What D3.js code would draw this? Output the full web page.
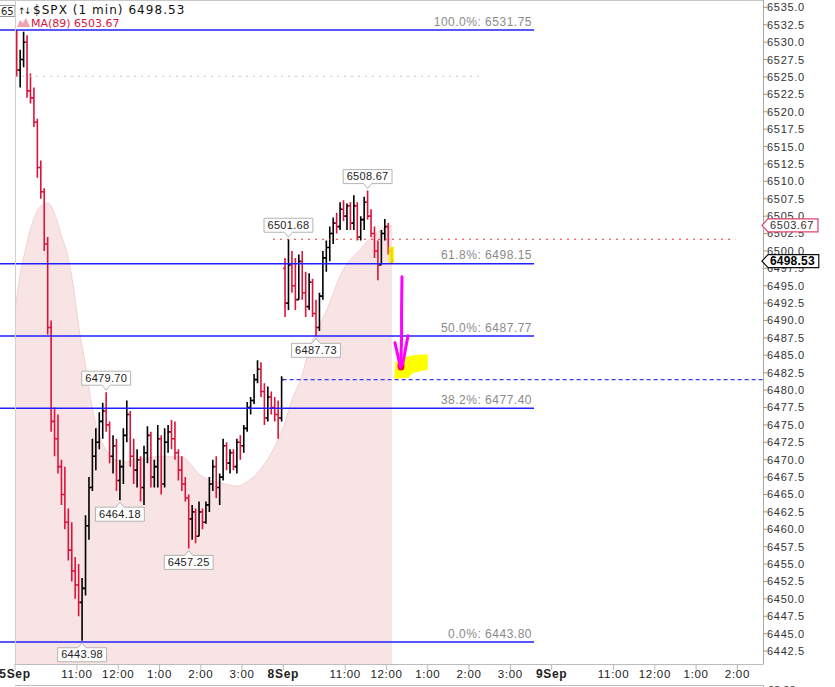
<!DOCTYPE html>
<html>
<head>
<meta charset="utf-8">
<script src="https://cdn.jsdelivr.net/npm/d3@7/dist/d3.min.js"></script>
<style>
html,body{margin:0;padding:0;background:#fff;overflow:hidden;}
svg{display:block;}
</style>
</head>
<body>
<svg id="chart" width="835" height="687"></svg>
<script>
// ---------------- DATA ----------------
// trading-minute offsets of each session open (5Sep, 8Sep) and 5-minute bars per session
const sessionStart = [0, 390];
const barsPerSession = [78, 32];
const barMinutes = 5;

const open = [
 6529.0,6526.0,6527.5,6530.0,6523.0,6522.0,6518.5,6512.0,6508.5,6501.0,
 6489.0,6475.5,6473.0,6469.0,6465.0,6461.0,6457.0,6454.0,6452.0,6449.5,
 6451.5,6460.5,6466.0,6470.5,6472.5,6475.5,6477.0,6475.0,6470.5,6472.0,
 6467.0,6469.0,6473.5,6476.5,6470.5,6468.5,6470.0,6466.0,6471.0,6473.5,
 6467.5,6469.0,6473.0,6466.5,6472.5,6474.0,6473.0,6471.0,6468.5,6466.5,
 6464.5,6461.5,6462.5,6459.0,6462.5,6461.0,6463.5,6466.5,6469.0,6466.0,
 6467.5,6472.0,6469.5,6471.0,6469.0,6472.5,6472.0,6474.5,6477.5,6478.5,
 6481.5,6483.0,6479.8,6476.0,6479.0,6477.5,6476.5,6476.0,
 6497.5,6492.5,6498.0,6495.0,6493.0,6498.5,6494.0,6492.0,6495.5,6491.0,
 6489.0,6493.5,6499.0,6500.5,6502.5,6504.0,6503.5,6506.0,6505.0,6506.5,
 6504.0,6506.5,6502.0,6504.5,6507.0,6505.0,6502.5,6500.0,6498.0,6502.5,
 6503.5,6500.0
];
const high = [
 6531.75,6528.9,6531.5,6531.0,6525.5,6523.5,6519.0,6513.0,6509.0,6502.0,
 6490.0,6477.5,6476.5,6470.0,6469.0,6463.0,6461.0,6456.0,6455.0,6453.0,
 6462.0,6467.5,6473.0,6474.5,6476.8,6478.2,6479.70,6475.5,6473.5,6473.0,
 6470.0,6474.5,6478.5,6477.0,6473.0,6471.5,6470.5,6472.0,6474.8,6474.0,
 6470.0,6475.0,6473.5,6474.5,6475.0,6475.7,6475.5,6471.5,6470.5,6467.5,
 6465.0,6463.5,6463.0,6464.0,6463.0,6464.0,6467.5,6470.0,6470.5,6468.0,
 6473.0,6472.5,6471.5,6471.5,6473.0,6473.5,6475.0,6478.3,6479.0,6482.3,
 6484.3,6484.0,6481.0,6480.5,6479.8,6479.0,6478.5,6482.0,
 6499.0,6501.68,6500.0,6499.0,6499.5,6500.0,6497.0,6496.8,6496.0,6493.0,
 6494.0,6500.0,6501.5,6503.5,6504.8,6505.5,6507.0,6507.3,6506.8,6507.0,
 6508.0,6507.0,6505.0,6507.8,6508.67,6506.0,6503.5,6501.5,6503.0,6504.6,
 6504.0,6500.5
];
const low = [
 6525.0,6523.5,6526.4,6522.0,6521.2,6517.8,6510.5,6507.5,6500.0,6488.0,
 6474.0,6470.5,6468.0,6463.5,6460.0,6455.5,6452.5,6450.0,6447.5,6443.98,
 6450.5,6458.5,6465.5,6468.5,6471.5,6473.0,6474.0,6469.5,6468.0,6465.5,
 6464.18,6466.5,6472.5,6469.0,6466.5,6466.0,6464.0,6463.5,6469.5,6466.0,
 6466.0,6466.0,6465.0,6466.0,6471.0,6471.5,6470.0,6467.0,6465.5,6464.0,
 6457.25,6458.5,6458.0,6459.0,6460.0,6460.8,6462.5,6465.5,6464.5,6463.5,
 6467.0,6468.5,6468.0,6468.5,6468.0,6470.0,6471.0,6474.0,6476.5,6478.0,
 6481.0,6479.0,6475.0,6475.5,6476.5,6475.5,6473.0,6475.5,
 6490.5,6491.5,6494.0,6491.5,6493.0,6493.0,6490.5,6491.5,6490.5,6487.73,
 6488.5,6493.0,6497.0,6498.5,6501.0,6502.5,6503.0,6504.3,6503.0,6503.0,
 6503.0,6501.5,6501.5,6503.0,6504.5,6502.0,6499.0,6495.8,6498.0,6501.5,
 6499.5,6498.2
];
const close = [
 6526.0,6527.5,6530.0,6523.0,6522.0,6518.5,6512.0,6508.5,6501.0,6489.0,
 6475.5,6473.0,6469.0,6465.0,6461.0,6457.0,6454.0,6452.0,6449.5,6451.5,
 6460.5,6466.0,6470.5,6472.5,6475.5,6477.0,6475.0,6470.5,6472.0,6467.0,
 6469.0,6473.5,6476.5,6470.5,6468.5,6470.0,6466.0,6471.0,6473.5,6467.5,
 6469.0,6473.0,6466.5,6472.5,6474.0,6473.0,6471.0,6468.5,6466.5,6464.5,
 6461.5,6462.5,6459.0,6462.5,6461.0,6463.5,6466.5,6469.0,6466.0,6467.5,
 6472.0,6469.5,6471.0,6469.0,6472.5,6472.0,6474.5,6477.5,6478.5,6481.5,
 6483.0,6479.8,6476.0,6479.0,6477.5,6476.5,6476.0,6481.5,
 6492.5,6498.0,6495.0,6493.0,6498.5,6494.0,6492.0,6495.5,6491.0,6489.0,
 6493.5,6499.0,6500.5,6502.5,6504.0,6503.5,6506.0,6505.0,6506.5,6504.0,
 6506.5,6502.0,6504.5,6507.0,6505.0,6502.5,6500.0,6498.0,6502.5,6503.5,
 6500.0,6498.53
];

// MA(89) read from the shaded area (trading minute, value)
const maMinute = [0,7,15,22,29,36,47,54,61,68,76,84,94,102,109,116,124,134,145,160,174,189,211,230,244,254,269,283,302,323,337,356,375,390,404,414,429,453,477,501,526,548];
const maValue  = [6491.1,6496.3,6500.1,6503.0,6505.0,6506.3,6506.9,6506.2,6504.4,6502.0,6499.6,6495.4,6488.2,6483.9,6479.3,6475.7,6473.1,6471.1,6470.0,6469.7,6470.0,6470.2,6470.5,6470.4,6470.4,6469.5,6467.8,6467.1,6466.6,6466.2,6466.8,6468.5,6471.4,6474.7,6479.0,6481.2,6486.2,6491.5,6497.3,6500.1,6502.7,6503.67];

const fibLevels = [6531.75, 6498.15, 6487.77, 6477.40, 6443.80];
const fibNames  = ["100.0%", "61.8%", "50.0%", "38.2%", "0.0%"];

const yTicks = [6442.5,6445.0,6447.5,6450.0,6452.5,6455.0,6457.5,6460.0,6462.5,6465.0,6467.5,6470.0,6472.5,6475.0,6477.5,6480.0,6482.5,6485.0,6487.5,6490.0,6492.5,6495.0,6497.5,6500.0,6502.5,6505.0,6507.5,6510.0,6512.5,6515.0,6517.5,6520.0,6522.5,6525.0,6527.5,6530.0,6532.5,6535.0];
const xTickMinute = [0,90,150,210,270,330,390,480,540,600,660,720,780,870,930,990,1050];
const xTickLabel  = ["5Sep","11:00","12:00","1:00","2:00","3:00","8Sep","11:00","12:00","1:00","2:00","3:00","9Sep","11:00","12:00","1:00","2:00"];
const xTickBold   = [true,false,false,false,false,false,true,false,false,false,false,false,true,false,false,false,false];

const swingLabels = [
 {bar:26, kind:"high"}, {bar:19, kind:"low"}, {bar:30, kind:"low"}, {bar:50, kind:"low"},
 {bar:79, kind:"high"}, {bar:87, kind:"low"}, {bar:102, kind:"high"}
];

const lastPrice = 6498.53;
const maLast = 6503.67;
const prevClose = 6481.5;        // blue dashed
const openHigh = 6501.68;        // red dotted
const dottedLevel = 6525.1;      // grey dotted

// hand-drawn annotation (minute, price)
const arrowShaft = [[562.5,6496.3],[561.9,6491.5],[561.8,6487.2],[560.4,6483.3]];
const arrowHeadL = [[552.3,6486.8],[560.4,6483.2]];
const arrowHeadR = [[571.2,6487.8],[563.2,6483.6]];
const highlighter = [[553.8,6483.9],[565,6484.6],[578.5,6484.9],[598.8,6485.05],[598.8,6483.0],[578.5,6482.6],[571.2,6481.9],[552.3,6481.75]];
const redDot = [561, 6483.45];
const lastBarMark = [543, 551, 6498.3, 6500.6];

// ---------------- CHART ----------------
const svg = d3.select("#chart");
const plotL = 15, plotR = 763, plotT = 0, plotB = 664;
const SANS = "'Liberation Sans', Arial, sans-serif";
const DV = "'DejaVu Sans', Verdana, sans-serif";
const RED = "#dc143c";
const BLUE = "#1f1fff";

const x = d3.scaleLinear().domain([0, 1087.2]).range([plotL, plotR]);
const y = d3.scaleLinear().domain([6443.8, 6531.75]).range([642, 30]);

// bars
const bars = [];
let k = 0;
sessionStart.forEach((s, d) => {
  for (let j = 0; j < barsPerSession[d]; j++, k++) {
    bars.push({o: open[k], h: high[k], l: low[k], c: close[k], m: s + j * barMinutes + barMinutes / 2});
  }
});

svg.append("defs").append("clipPath").attr("id", "plotclip")
  .append("rect").attr("x", plotL).attr("y", plotT).attr("width", plotR - plotL).attr("height", plotB - plotT);

const plot = svg.append("g").attr("clip-path", "url(#plotclip)");

// MA area
const maData = maMinute.map((m, i) => [m, maValue[i]]);
plot.append("path").datum(maData)
  .attr("d", d3.area().x(d => x(d[0])).y0(plotB).y1(d => y(d[1])).curve(d3.curveMonotoneX))
  .attr("fill", "#f8e4e4");
plot.append("path").datum(maData)
  .attr("d", d3.line().x(d => x(d[0])).y(d => y(d[1])).curve(d3.curveMonotoneX))
  .attr("fill", "none").attr("stroke", "#f1d2d4").attr("stroke-width", 1);

// grey dotted level
svg.append("line").attr("x1", x(0)).attr("x2", x(676)).attr("y1", y(dottedLevel)).attr("y2", y(dottedLevel))
  .attr("stroke", "#c8c8c8").attr("stroke-width", 1).attr("stroke-dasharray", "2,5");

// yellow mark on last bar
svg.append("rect").attr("x", x(lastBarMark[0])).attr("width", x(lastBarMark[1]) - x(lastBarMark[0]))
  .attr("y", y(lastBarMark[3])).attr("height", y(lastBarMark[2]) - y(lastBarMark[3]))
  .attr("fill", "#f5f000").attr("opacity", 0.85);

// red dotted at open high, blue dashed at prior close
svg.append("line").attr("x1", x(375)).attr("x2", x(1047)).attr("y1", y(openHigh)).attr("y2", y(openHigh))
  .attr("stroke", "#e8343a").attr("stroke-width", 1).attr("stroke-dasharray", "2,5");
svg.append("line").attr("x1", x(389)).attr("x2", plotR).attr("y1", y(prevClose)).attr("y2", y(prevClose))
  .attr("stroke", "#3a3aff").attr("stroke-width", 1.2).attr("stroke-dasharray", "4,3");

// OHLC bars
plot.append("g").selectAll("path").data(bars).join("path")
  .attr("d", b => {
    const cx = x(b.m);
    return `M${cx},${y(b.h)}V${y(b.l)}M${cx - 2},${y(b.o)}H${cx}M${cx},${y(b.c)}H${cx + 2}`;
  })
  .attr("fill", "none")
  .attr("stroke", b => b.c >= b.o ? "#000" : RED)
  .attr("stroke-width", 1.6);

// Fibonacci lines
const fib = svg.append("g");
fibLevels.forEach((v, i) => {
  fib.append("line").attr("x1", 0).attr("x2", 534).attr("y1", y(v)).attr("y2", y(v))
    .attr("stroke", BLUE).attr("stroke-width", 1.4);
  fib.append("text").attr("x", 532).attr("y", y(v) - 4.5).attr("text-anchor", "end")
    .attr("font-family", SANS).attr("font-size", 12).attr("letter-spacing", 0.5)
    .attr("fill", "#8a8a8a").text(`${fibNames[i]}: ${v.toFixed(2)}`);
});

// swing labels
const fmt2 = d3.format(".2f");
swingLabels.forEach(s => {
  const b = bars[s.bar];
  const px = x(b.m);
  const val = s.kind === "high" ? b.h : b.l;
  const py = y(val);
  const g = svg.append("g");
  const t = g.append("text").attr("font-family", SANS).attr("font-size", 11).attr("letter-spacing", 0.3)
    .attr("fill", "#222").attr("text-anchor", "middle").text(fmt2(val));
  const w = t.node().getComputedTextLength() + 7;
  let d, ty;
  if (s.kind === "high") {
    const tip = py - 2, yb = tip - 5, yt = yb - 14;
    d = `M${px - w / 2},${yt}H${px + w / 2}V${yb}H${px + 4}L${px},${tip}L${px - 4},${yb}H${px - w / 2}Z`;
    ty = yb - 3.5;
  } else {
    const tip = py + 2, yt = tip + 5, yb = yt + 14;
    d = `M${px - w / 2},${yt}H${px - 4}L${px},${tip}L${px + 4},${yt}H${px + w / 2}V${yb}H${px - w / 2}Z`;
    ty = yb - 3.5;
  }
  g.insert("path", "text").attr("d", d).attr("fill", "#fff").attr("stroke", "#b4b4b4").attr("stroke-width", 1);
  t.attr("x", px).attr("y", ty);
});

// hand-drawn annotation
const ln = d3.line().x(d => x(d[0])).y(d => y(d[1])).curve(d3.curveCatmullRom);
svg.append("path").datum(highlighter)
  .attr("d", d3.line().x(d => x(d[0])).y(d => y(d[1])).curve(d3.curveLinearClosed))
  .attr("fill", "#ffff00").attr("stroke", "#ffff00").attr("stroke-width", 1.5).attr("stroke-linejoin", "round");
svg.append("ellipse").attr("cx", x(redDot[0])).attr("cy", y(redDot[1])).attr("rx", 3.5).attr("ry", 4.5)
  .attr("fill", "#f01010");
[arrowShaft, arrowHeadL, arrowHeadR].forEach(a => {
  svg.append("path").datum(a).attr("d", ln).attr("fill", "none")
    .attr("stroke", "#ff00ff").attr("stroke-width", 3).attr("stroke-linecap", "round");
});

// frame
const frame = svg.append("g").attr("fill", "none");
frame.append("line").attr("x1", 0).attr("x2", plotR).attr("y1", 0.5).attr("y2", 0.5).attr("stroke", "#c8c8c8");
frame.append("line").attr("x1", plotL + 0.5).attr("x2", plotL + 0.5).attr("y1", 0).attr("y2", plotB).attr("stroke", "#cfcfcf");
frame.append("line").attr("x1", plotL).attr("x2", plotR).attr("y1", plotB + 0.5).attr("y2", plotB + 0.5).attr("stroke", "#bdbdbd");
frame.append("line").attr("x1", plotR + 0.5).attr("x2", plotR + 0.5).attr("y1", 0).attr("y2", plotB + 0.5).attr("stroke", "#a8a8a8");
// lower panel top
frame.append("line").attr("x1", plotL).attr("x2", plotR).attr("y1", 685.5).attr("y2", 685.5).attr("stroke", "#bdbdbd");
frame.append("line").attr("x1", plotR + 0.5).attr("x2", plotR + 0.5).attr("y1", 685).attr("y2", 687).attr("stroke", "#a8a8a8");
svg.append("text").attr("x", 768).attr("y", 694).attr("font-family", SANS).attr("font-size", 11)
  .attr("fill", "#333").text("88.88");

// right axis
const ra = svg.append("g");
yTicks.forEach(v => {
  ra.append("line").attr("x1", plotR).attr("x2", plotR + 4).attr("y1", y(v)).attr("y2", y(v)).attr("stroke", "#999");
  ra.append("text").attr("x", plotR + 4).attr("y", y(v)).attr("dy", "0.36em")
    .attr("font-family", SANS).attr("font-size", 11).attr("letter-spacing", 0.7)
    .attr("fill", "#333").text(v.toFixed(1));
});
function axisBox(val, stroke, bold, textFill) {
  const yc = y(val);
  const g = svg.append("g");
  const t = g.append("text").attr("x", plotR + 7).attr("y", yc).attr("dy", "0.36em")
    .attr("font-family", SANS).attr("font-size", bold ? 12 : 11).attr("font-weight", bold ? "bold" : "normal")
    .attr("letter-spacing", bold ? 0.2 : 0.6).attr("fill", textFill).text(val.toFixed(2));
  const w = t.node().getComputedTextLength() + 10;
  const x0 = plotR - 1, x1 = plotR + 5;
  g.insert("path", "text")
    .attr("d", `M${x0},${yc}L${x1},${yc - 6.5}H${x1 + w - 4}V${yc + 6.5}H${x1}Z`)
    .attr("fill", "#fff").attr("stroke", stroke).attr("stroke-width", 1.2);
}
axisBox(maLast, "#e0446c", false, "#333");
axisBox(lastPrice, "#111", true, "#000");

// bottom axis
const ba = svg.append("g");
xTickMinute.forEach((m, i) => {
  ba.append("line").attr("x1", x(m)).attr("x2", x(m)).attr("y1", plotB).attr("y2", plotB + 6).attr("stroke", "#bbb");
  ba.append("text").attr("x", x(m)).attr("y", 678).attr("text-anchor", "middle")
    .attr("font-family", SANS).attr("font-size", xTickBold[i] ? 12 : 11.5)
    .attr("font-weight", xTickBold[i] ? "bold" : "normal").attr("letter-spacing", 0.7)
    .attr("fill", "#222").text(xTickLabel[i]);
});

// header
svg.append("defs").append("clipPath").attr("id", "leftclip")
  .append("rect").attr("x", 0).attr("y", 0).attr("width", 15).attr("height", 20);
const lb = svg.append("g").attr("clip-path", "url(#leftclip)");
lb.append("rect").attr("x", -20).attr("y", 5.5).attr("width", 35).attr("height", 11).attr("fill", "#fff").attr("stroke", "#999");
lb.append("text").attr("x", 1).attr("y", 15).attr("font-family", DV).attr("font-size", 10).attr("fill", "#222").text("65");

svg.append("text").attr("x", 18).attr("y", 14).attr("font-family", DV).attr("font-size", 9).attr("letter-spacing", -1.5)
  .attr("fill", "#111").text("↑↓");
svg.append("text").attr("x", 33).attr("y", 14).attr("font-family", DV).attr("font-size", 12).attr("letter-spacing", 1.05)
  .attr("fill", "#111").text("$SPX (1 min) " + lastPrice.toFixed(2));
svg.append("path").attr("d", "M17,27L20,20L23,23L26,18L30,27Z").attr("fill", "#f4a0b0");
svg.append("text").attr("x", 31).attr("y", 27).attr("font-family", DV).attr("font-size", 11)
  .attr("fill", RED).text("MA(89) " + maLast.toFixed(2));
</script>
</body>
</html>
